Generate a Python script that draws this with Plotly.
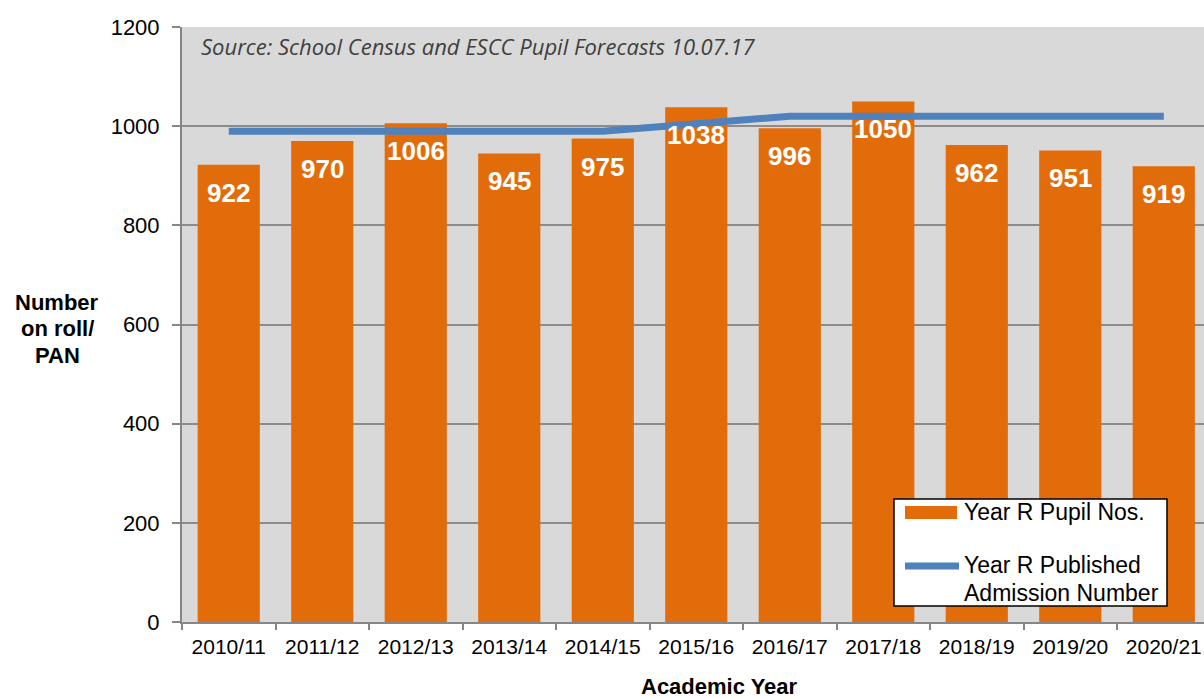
import plotly.graph_objects as go

years = ["2010/11", "2011/12", "2012/13", "2013/14", "2014/15", "2015/16",
         "2016/17", "2017/18", "2018/19", "2019/20", "2020/21"]
pupils = [922, 970, 1006, 945, 975, 1038, 996, 1050, 962, 951, 919]
pan = [990, 990, 990, 990, 990, 1005, 1020, 1020, 1020, 1020, 1020]

ORANGE = "#E36C0A"
BLUE = "#4F81BD"
FONT = "Arial, 'Liberation Sans', sans-serif"

W, H = 1204, 698
ML, MR, MT, MB = 182, 0, 27, 76
PW, PH = W - ML - MR, H - MT - MB


def px(x):
    return (x - ML) / PW


def py(y):
    return (H - MB - y) / PH


fig = go.Figure()
fig.add_trace(go.Bar(x=years, y=pupils, marker=dict(color=ORANGE, line=dict(width=0)),
                     width=0.665, name="Year R Pupil Nos.", showlegend=False))
fig.add_trace(go.Scatter(x=years, y=pan, mode="lines",
                         line=dict(color=BLUE, width=7),
                         name="Year R Published Admission Number", showlegend=False))

annotations = []
for yr, v in zip(years, pupils):
    annotations.append(dict(x=yr, y=v, xref="x", yref="y", text=str(v), showarrow=False,
                            yanchor="middle", yshift=-28,
                            font=dict(family=FONT, size=26, color="white", weight="bold")))

# Source note
annotations.append(dict(x=px(199), y=py(46), xref="paper", yref="paper", xanchor="left",
                        yanchor="middle", showarrow=False,
                        text="<i>Source: School Census and ESCC Pupil Forecasts 10.07.17</i>",
                        font=dict(family="'Open Sans', sans-serif", size=22, color="#404040")))

# Y axis title lines
for txt, yy in [("Number", 302), ("on roll/", 328), ("PAN", 355)]:
    annotations.append(dict(x=px(57), y=py(yy), xref="paper", yref="paper", xanchor="center",
                            yanchor="middle", showarrow=False, text=txt,
                            font=dict(family=FONT, size=22, color="black", weight="bold")))

# X axis title
annotations.append(dict(x=px(719), y=py(686), xref="paper", yref="paper", xanchor="center",
                        yanchor="middle", showarrow=False, text="Academic Year",
                        font=dict(family=FONT, size=22, color="black", weight="bold")))

# Manual legend
shapes = [
    dict(type="rect", xref="paper", yref="paper", x0=px(894), x1=px(1167), y0=py(606), y1=py(499),
         fillcolor="white", line=dict(color="black", width=1.5), layer="above"),
    dict(type="rect", xref="paper", yref="paper", x0=px(905), x1=px(957), y0=py(519), y1=py(506),
         fillcolor=ORANGE, line=dict(width=0), layer="above"),
    dict(type="line", xref="paper", yref="paper", x0=px(905), x1=px(959), y0=py(566), y1=py(566),
         line=dict(color=BLUE, width=7), layer="above"),
]
for txt, yy in [("Year R Pupil Nos.", 512), ("Year R Published", 565), ("Admission Number", 593)]:
    annotations.append(dict(x=px(962), y=py(yy), xref="paper", yref="paper", xanchor="left",
                            yanchor="middle", showarrow=False, text=txt,
                            font=dict(family=FONT, size=23, color="black")))

fig.update_layout(
    width=W, height=H,
    margin=dict(l=ML, r=MR, t=MT, b=MB, autoexpand=False),
    paper_bgcolor="white",
    plot_bgcolor="#D9D9D9",
    bargap=0.335,
    hovermode=False,
    annotations=annotations,
    shapes=shapes,
    xaxis=dict(type="category", range=[-0.5, 10.43], tickson="boundaries", automargin=False,
               ticks="outside", ticklen=6, tickcolor="#868686", tickwidth=2,
               showline=True, linecolor="#868686", linewidth=2, showgrid=False,
               ticklabelstandoff=5,
               tickfont=dict(family=FONT, size=21, color="black")),
    yaxis=dict(range=[0, 1200], dtick=200, ticks="outside", ticklen=8, tickcolor="#868686",
               tickwidth=2, showline=True, linecolor="#868686", linewidth=2, automargin=False,
               gridcolor="#8C8C8C", gridwidth=1.5, zeroline=False, ticklabelstandoff=8,
               tickfont=dict(family=FONT, size=22, color="black")),
)

fig.write_html(
    "out.html",
    config={"displayModeBar": False},
    post_script=("document.documentElement.style.overflow='hidden';"
                 "document.body.style.overflow='hidden';"
                 "document.body.style.margin='0';"),
)
